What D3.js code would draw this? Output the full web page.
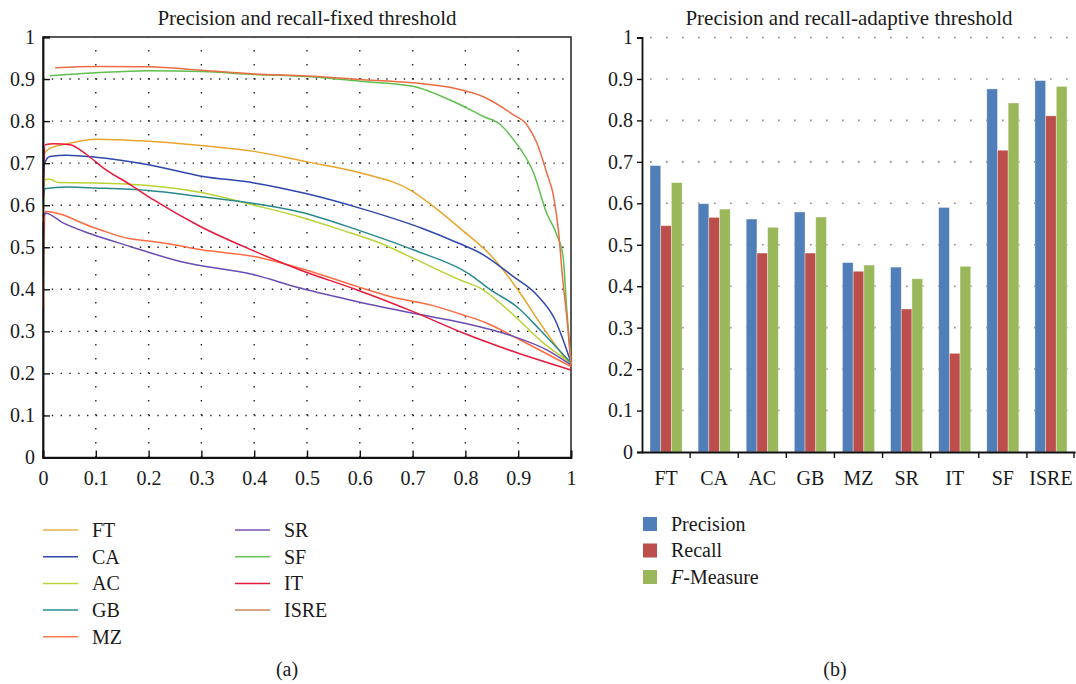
<!DOCTYPE html>
<html>
<head>
<meta charset="utf-8">
<script src="https://cdn.jsdelivr.net/npm/d3@7"></script>
<style>
  body { margin: 0; background: #fff; }
  svg text { font-family: "Liberation Serif", "DejaVu Serif", serif !important; fill: #1a1a1a; }
</style>
</head>
<body>
<script>
// ---- (a) precision / recall curves, pairs are [recall, precision] ----
var methods = ['FT', 'CA', 'AC', 'GB', 'MZ', 'SR', 'SF', 'IT', 'ISRE'];
var lineColors = ['#E9A42C', '#2E47AE', '#B8D334', '#27898C', '#FF6B40', '#6A4CB2', '#5DBF4C', '#E8193C', '#EC6C45'];
var legendColors = ['#E2B24E', '#2E47AE', '#BCD43E', '#2A8E92', '#FF7A4E', '#7A52B8', '#6CC25A', '#E8193C', '#C98A5E'];

var ft = [[0, 0.56], [0.003, 0.724], [0.013, 0.735], [0.045, 0.746], [0.1, 0.757], [0.2, 0.752], [0.3, 0.742], [0.4, 0.728], [0.5, 0.703], [0.6, 0.677], [0.7, 0.633], [0.727, 0.609], [0.79, 0.545], [0.853, 0.474], [0.897, 0.403], [0.941, 0.32], [1, 0.216]];
var ca = [[0, 0.64], [0.003, 0.7], [0.013, 0.716], [0.045, 0.719], [0.1, 0.714], [0.2, 0.696], [0.3, 0.669], [0.4, 0.653], [0.5, 0.627], [0.6, 0.593], [0.72, 0.544], [0.777, 0.515], [0.834, 0.482], [0.891, 0.43], [0.935, 0.387], [0.97, 0.327], [0.985, 0.28], [1, 0.225]];
var ac = [[0, 0.58], [0.004, 0.661], [0.013, 0.662], [0.029, 0.654], [0.1, 0.653], [0.2, 0.647], [0.3, 0.63], [0.4, 0.6], [0.487, 0.572], [0.563, 0.542], [0.638, 0.51], [0.701, 0.474], [0.796, 0.419], [0.828, 0.403], [0.891, 0.339], [0.948, 0.272], [1, 0.225]];
var gb = [[0, 0.6], [0.003, 0.639], [0.045, 0.643], [0.1, 0.641], [0.2, 0.635], [0.3, 0.62], [0.4, 0.604], [0.487, 0.584], [0.594, 0.542], [0.701, 0.494], [0.809, 0.435], [0.847, 0.399], [0.897, 0.359], [0.941, 0.304], [1, 0.225]];
var mz = [[0, 0.355], [0.004, 0.585], [0.1, 0.545], [0.165, 0.52], [0.2, 0.515], [0.24, 0.508], [0.3, 0.494], [0.4, 0.478], [0.487, 0.45], [0.594, 0.407], [0.657, 0.383], [0.733, 0.363], [0.796, 0.339], [0.84, 0.32], [0.903, 0.28], [1, 0.216]];
var sr = [[0, 0.57], [0.005, 0.581], [0.038, 0.558], [0.09, 0.532], [0.165, 0.502], [0.26, 0.466], [0.398, 0.435], [0.487, 0.403], [0.594, 0.371], [0.701, 0.343], [0.796, 0.32], [0.891, 0.288], [0.954, 0.256], [1, 0.22]];
var sf = [[0.013, 0.908], [0.1, 0.915], [0.2, 0.92], [0.3, 0.918], [0.4, 0.911], [0.5, 0.906], [0.6, 0.895], [0.7, 0.883], [0.783, 0.843], [0.834, 0.811], [0.866, 0.792], [0.891, 0.756], [0.929, 0.677], [0.954, 0.581], [0.973, 0.53], [0.985, 0.478], [0.992, 0.351], [1, 0.225]];
var it = [[0, 0.62], [0.004, 0.744], [0.02, 0.746], [0.051, 0.744], [0.083, 0.72], [0.114, 0.689], [0.165, 0.649], [0.209, 0.613], [0.297, 0.55], [0.398, 0.492], [0.487, 0.446], [0.594, 0.399], [0.701, 0.347], [0.796, 0.296], [0.891, 0.252], [1, 0.208]];
var isre = [[0.023, 0.927], [0.1, 0.93], [0.2, 0.929], [0.3, 0.921], [0.4, 0.912], [0.5, 0.907], [0.6, 0.899], [0.7, 0.891], [0.783, 0.877], [0.834, 0.858], [0.891, 0.815], [0.916, 0.792], [0.935, 0.749], [0.954, 0.677], [0.967, 0.621], [0.976, 0.542], [0.985, 0.415], [0.992, 0.335], [1, 0.22]];
var curves = [ft, ca, ac, gb, mz, sr, sf, it, isre];

// ---- (b) adaptive threshold bars ----
var categories = ['FT', 'CA', 'AC', 'GB', 'MZ', 'SR', 'IT', 'SF', 'ISRE'];
var precision = [0.691, 0.599, 0.562, 0.579, 0.457, 0.446, 0.590, 0.876, 0.896];
var recall = [0.546, 0.566, 0.480, 0.480, 0.436, 0.345, 0.238, 0.728, 0.811];
var fmeasure = [0.650, 0.586, 0.542, 0.567, 0.451, 0.418, 0.448, 0.842, 0.882];
var seriesNames = ['Precision', 'Recall', 'F-Measure'];
var barColors = ['#4F7EB8', '#BC4F4C', '#9AB75A'];

var ticks = d3.range(0, 1.01, 0.1).map(function(d){ return +d.toFixed(1); });

var svg = d3.select("body").append("svg")
  .attr("width", 1076)
  .attr("height", 684);

// ===================== chart (a) =====================
var xA = d3.scaleLinear().domain([0, 1]).range([43, 571]);
var yA = d3.scaleLinear().domain([0, 1]).range([457.5, 37]);

var gA = svg.append("g");

// dotted grid
gA.selectAll(".hgrid").data(ticks.slice(1, 10)).enter().append("line")
  .attr("x1", xA(0)).attr("x2", xA(1))
  .attr("y1", function(d){ return yA(d); }).attr("y2", function(d){ return yA(d); })
  .attr("stroke", "#222").attr("stroke-width", 1.4)
  .attr("stroke-dasharray", "1.4,7.4");
gA.selectAll(".vgrid").data(ticks.slice(1, 10)).enter().append("line")
  .attr("y1", yA(0)).attr("y2", yA(1))
  .attr("x1", function(d){ return xA(d); }).attr("x2", function(d){ return xA(d); })
  .attr("stroke", "#222").attr("stroke-width", 1.4)
  .attr("stroke-dasharray", "1.4,12.6");

// frame
gA.append("rect")
  .attr("x", xA(0)).attr("y", yA(1))
  .attr("width", xA(1) - xA(0)).attr("height", yA(0) - yA(1))
  .attr("fill", "none").attr("stroke", "#222").attr("stroke-width", 1.5);

var line = d3.line()
  .x(function(d){ return xA(d[0]); })
  .y(function(d){ return yA(d[1]); })
  .curve(d3.curveMonotoneX);

gA.selectAll(".curve").data(curves).enter().append("path")
  .attr("d", line)
  .attr("fill", "none")
  .attr("stroke", function(d, i){ return lineColors[i]; })
  .attr("stroke-width", 1.5);

var axA = gA.append("g").attr("transform", "translate(" + xA(0) + ",0)")
  .call(d3.axisLeft(yA).tickValues(ticks).tickSize(-7).tickPadding(8).tickFormat(d3.format("")));
var bxA = gA.append("g").attr("transform", "translate(0," + yA(0) + ")")
  .call(d3.axisBottom(xA).tickValues(ticks).tickSize(-7).tickPadding(13).tickFormat(d3.format("")));
[axA, bxA].forEach(function(a){
  a.attr("font-size", 20).attr("font-family", null);
  a.select(".domain").attr("stroke", "#111").attr("stroke-width", 1.8);
  a.selectAll(".tick line").attr("stroke", "#111").attr("stroke-width", 1.4);
});

gA.append("text").attr("x", 307).attr("y", 25).attr("text-anchor", "middle")
  .attr("font-size", 21).text("Precision and recall-fixed threshold");

// legend (a)
var legA = gA.selectAll(".legA").data(methods).enter().append("g")
  .attr("transform", function(d, i){
    var col = i < 5 ? 0 : 1, row = i < 5 ? i : i - 5;
    return "translate(" + (col ? 235 : 43) + "," + (530 + row * 26.7) + ")";
  });
legA.append("line").attr("x1", 0).attr("x2", 35).attr("y1", 0).attr("y2", 0)
  .attr("stroke", function(d, i){ return legendColors[i]; }).attr("stroke-width", 1.5);
legA.append("text").attr("x", 49).attr("y", 0).attr("dy", "0.34em")
  .attr("font-size", 20).text(function(d){ return d; });

svg.append("text").attr("x", 287).attr("y", 676).attr("text-anchor", "middle")
  .attr("font-size", 20).text("(a)");

// ===================== chart (b) =====================
var x0 = d3.scaleBand().domain(categories).range([642, 1075]).padding(0);
var step = x0.step();
var x1 = d3.scaleBand().domain(seriesNames).range([step / 6, step * 5 / 6]).padding(0);
var yB = d3.scaleLinear().domain([0, 1]).range([452, 37.5]);

var gB = svg.append("g");

gB.selectAll(".bgrid").data(ticks.slice(1)).enter().append("line")
  .attr("x1", x0.range()[0] + 8).attr("x2", x0.range()[1])
  .attr("y1", function(d){ return yB(d); }).attr("y2", function(d){ return yB(d); })
  .attr("stroke", "#8a8a8a").attr("stroke-width", 1.6)
  .attr("stroke-dasharray", "1.6,14.4");

var rows = categories.map(function(c, i){ return [precision[i], recall[i], fmeasure[i]]; });
var groups = gB.selectAll(".grp").data(rows).enter().append("g")
  .attr("transform", function(d, i){ return "translate(" + x0(categories[i]) + ",0)"; });
groups.selectAll("rect").data(function(d){ return d; }).enter().append("rect")
  .attr("x", function(d, j){ return x1(seriesNames[j]); })
  .attr("width", x1.bandwidth())
  .attr("y", function(d){ return yB(d); })
  .attr("height", function(d){ return yB(0) - yB(d); })
  .attr("fill", function(d, j){ return barColors[j]; })
  .attr("stroke", "rgba(255,255,255,0.45)").attr("stroke-width", 0.8);

var ayB = gB.append("g").attr("transform", "translate(" + x0.range()[0] + ",0)")
  .call(d3.axisLeft(yB).tickValues(ticks).tickSize(5).tickPadding(4).tickFormat(d3.format("")));
var axB = gB.append("g").attr("transform", "translate(0," + yB(0) + ")")
  .call(d3.axisBottom(x0).tickSize(0).tickPadding(19));
[ayB, axB].forEach(function(a){
  a.attr("font-size", 20).attr("font-family", null);
  a.select(".domain").attr("stroke", "#111").attr("stroke-width", 1.8);
  a.selectAll(".tick line").attr("stroke", "#111").attr("stroke-width", 1.4);
});
// category boundary ticks
gB.selectAll(".btick").data(categories.slice(1).concat(["end"])).enter().append("line")
  .attr("x1", function(d){ return d === "end" ? x0.range()[1] - 1 : x0(d); })
  .attr("x2", function(d){ return d === "end" ? x0.range()[1] - 1 : x0(d); })
  .attr("y1", yB(0)).attr("y2", yB(0) + 6)
  .attr("stroke", "#111").attr("stroke-width", 1.4);

gB.append("text").attr("x", 849).attr("y", 25).attr("text-anchor", "middle")
  .attr("font-size", 21).text("Precision and recall-adaptive threshold");

// legend (b)
var legB = gB.selectAll(".legB").data(seriesNames).enter().append("g")
  .attr("transform", function(d, i){ return "translate(643," + (524 + i * 26.5) + ")"; });
legB.append("rect").attr("x", 0).attr("y", -7).attr("width", 14).attr("height", 14)
  .attr("fill", function(d, i){ return barColors[i]; });
var lt = legB.append("text").attr("x", 28).attr("y", 0).attr("dy", "0.34em").attr("font-size", 20);
lt.each(function(d){
  var t = d3.select(this);
  if (d === "F-Measure") {
    t.append("tspan").attr("font-style", "italic").text("F");
    t.append("tspan").text("-Measure");
  } else {
    t.text(d);
  }
});

svg.append("text").attr("x", 835).attr("y", 676).attr("text-anchor", "middle")
  .attr("font-size", 20).text("(b)");
</script>
</body>
</html>
